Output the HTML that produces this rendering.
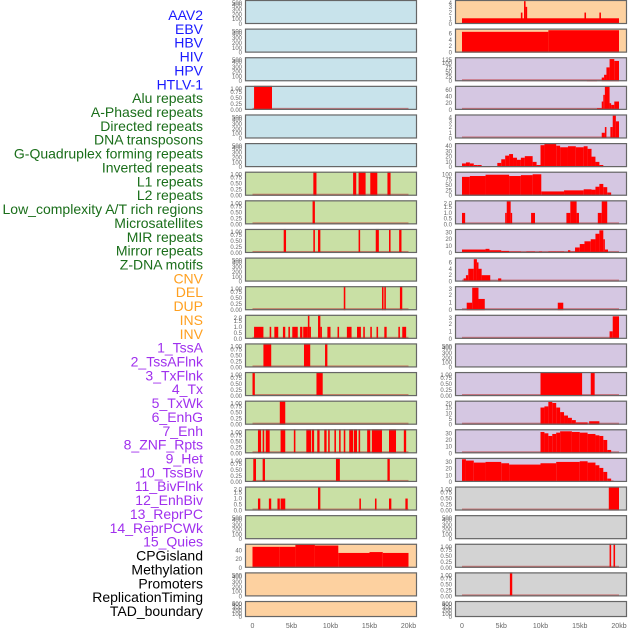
<!DOCTYPE html>
<html><head><meta charset="utf-8"><style>
body{margin:0;background:#fff;}
svg{display:block;font-family:"Liberation Sans",sans-serif;}
</style></head><body>
<svg id="chart" width="630" height="630" viewBox="0 0 630 630"></svg>
<script>
// ---------- data ----------
const labels = ["AAV2","EBV","HBV","HIV","HPV","HTLV-1","Alu repeats","A-Phased repeats","Directed repeats","DNA transposons","G-Quadruplex forming repeats","Inverted repeats","L1 repeats","L2 repeats","Low_complexity A/T rich regions","Microsatellites","MIR repeats","Mirror repeats","Z-DNA motifs","CNV","DEL","DUP","INS","INV","1_TssA","2_TssAFlnk","3_TxFlnk","4_Tx","5_TxWk","6_EnhG","7_Enh","8_ZNF_Rpts","9_Het","10_TssBiv","11_BivFlnk","12_EnhBiv","13_ReprPC","14_ReprPCWk","15_Quies","CPGisland","Methylation","Promoters","ReplicationTiming","TAD_boundary"];
const labelGroups = [6,13,5,15,5];
const xTickValues = [0,5,10,15,20];
const xTickLabels = ["0","5kb","10kb","15kb","20kb"];
const tEmpty = [0,100,200,300,400,500];
const tOne = [0,0.25,0.5,0.75,1];
const tTwo = [0,0.5,1,1.5,2];
const leftBg = ["b","b","b","b","b","b","g","g","g","g","g","g","g","g","g","g","g","g","g","p","p","p"];
const leftTicks = [tEmpty,tEmpty,tEmpty,tOne,tEmpty,tEmpty,tOne,tOne,tOne,tEmpty,tOne,tTwo,tOne,tOne,tOne,tOne,tOne,tTwo,tEmpty,[0,20,40],tEmpty,tEmpty];
const leftMax = [500,500,500,1,500,500,1,1,1,500,1,2,1,1,1,1,1,2,500,55,500,500];
const L3 = [[0.2,2.5,1]];
const L6 = [[7.8,8.2,1],[12.9,13.3,1],[13.6,14.5,1],[15.1,16.0,1],[17.3,17.7,1]];
const L7 = [[7.7,8.0,1]];
const L8 = [[4.0,4.3,1],[7.8,8.0,1],[8.4,8.7,1],[13.6,13.8,1],[15.8,16.2,1],[17.5,17.7,1],[18.8,19.1,1]];
const L10 = [[11.7,11.9,1],[16.6,16.8,1],[16.9,17.1,1],[18.9,19.2,1]];
const L11 = [[0.2,1.4,1],[2.2,2.4,1],[2.8,3.3,1],[3.9,4.2,1],[4.6,4.8,1],[5.1,5.8,1],[6.1,6.4,1],[6.5,7.1,1],[7.1,7.3,2],[7.3,7.4,1],[8.4,8.7,2],[8.7,8.9,1],[9.6,10.0,1],[10.9,11.1,1],[12.1,12.7,1],[13.4,13.9,1],[14.2,14.4,1],[15.1,15.3,1],[15.9,16.1,1],[16.9,17.2,1],[18.7,18.9,1],[19.2,19.7,1]];
const L12 = [[1.4,2.4,1],[6.6,7.4,1],[9.3,9.6,1]];
const L13 = [[0.0,0.3,1],[8.2,9.0,1]];
const L14 = [[3.5,4.2,1]];
const L15 = [[0.7,1.1,1],[1.3,1.5,1],[1.7,2.2,1],[3.6,4.2,1],[5.3,5.5,1],[6.9,7.5,1],[7.6,7.9,1],[8.3,8.6,1],[9.2,9.5,1],[9.7,9.9,1],[10.5,10.7,1],[11.1,11.3,1],[11.7,11.9,1],[12.4,12.9,1],[13.0,13.4,1],[13.6,13.8,1],[14.7,15.1,1],[15.3,16.6,1],[17.5,18.4,1],[19.4,19.7,1]];
const L16 = [[0.1,0.45,1],[1.3,1.6,1],[10.7,11.2,1],[17.3,17.6,1]];
const L17 = [[0.7,1.0,1],[2.1,2.4,1],[3.2,3.5,1],[3.6,4.2,1],[8.4,8.7,2],[13.7,13.9,1],[15.7,15.9,1],[17.5,17.8,1],[19.6,19.9,1]];
const L19 = [[0,3.5,48],[3.5,5.5,48],[5.5,8.0,53],[8.0,11.0,51],[11.0,15.0,34],[15.0,16.7,36],[16.7,20.0,34]];
const leftData = [[],[],[],L3,[],[],L6,L7,L8,[],L10,L11,L12,L13,L14,L15,L16,L17,[],L19,[],[]];
const leftBase = [0,0,0,1,0,0,1,1,1,0,1,1,1,1,1,1,1,1,0,0,0,0];
const rightBg = ["p","p","l","l","l","l","l","l","l","l","l","l","l","l","l","l","l","y","y","y","y","y"];
const rightTicks = [[0,1,2,3,4],[0,2,4,6],[0,25,50,75,100,125],[0,20,40,60],[0,1,2,3,4],[0,10,20,30,40],[0,25,50,75,100],tTwo,[0,10,20,30],[0,2,4,6],[0,1,2,3],[0,1,2,3],tEmpty,tOne,[0,5,10,15,20],[0,10,20,30],[0,10,20,30],tOne,tEmpty,tOne,tOne,tEmpty];
const rightMax = [4.2,7.5,130,72,4.2,46,112,2.1,35,7.5,3.2,3.2,500,1,21,36,36,1,500,1,1,500];
const R0 = [[0,20,1],[7.5,7.7,2],[7.9,8.1,4],[8.1,8.3,3],[15.6,15.8,2],[17.5,17.7,2]];
const R1 = [[0,11,6.5],[11,20,7]];
const R2 = [[15.9,17.2,5],[17.8,18.1,20],[18.1,18.4,35],[18.4,18.8,75],[18.8,19.4,120],[19.4,20,110]];
const R3 = [[17.2,17.8,5],[17.8,18.0,25],[18.0,18.2,45],[18.2,18.8,70],[18.8,19.0,20],[19.0,19.4,15],[19.4,20,25]];
const R4 = [[17.8,18.2,1],[18.2,18.4,2],[18.9,19.2,2],[19.2,19.6,4],[19.6,20,3]];
const R5 = [[0,0.5,7],[0.5,1,9],[1,1.5,7],[1.5,2,4],[2,2.5,4],[2.5,3.6,2],[4.5,5,8],[5,5.5,15],[5.5,6,22],[6,6.5,25],[6.5,7,18],[7,7.5,14],[7.5,8,18],[8,9,21],[9,9.5,10],[9.5,10,4],[10,10.5,42],[10.5,12,45],[12,12.5,41],[12.5,13.5,38],[13.5,14.5,40],[14.5,15.5,38],[15.5,16,40],[16,16.5,35],[16.5,17,20],[17,17.5,10],[17.5,18,4]];
const R6 = [[0,1,88],[1,3,92],[3,6,98],[6,7.5,92],[7.5,9,96],[9,10.1,100],[10.1,13,20],[13,15.5,25],[15.5,16.5,30],[16.5,17,28],[17,17.5,42],[17.5,18,55],[18,18.5,40],[18.5,19,15]];
const R7 = [[0,0.4,1],[5.5,5.7,1],[5.7,6.2,2],[6.2,6.3,1],[8.8,9.3,1],[13.3,13.8,1],[13.8,14.6,2],[14.6,14.9,1],[17.3,17.8,1],[17.8,18.5,2]];
const R8 = [[0,3,5],[3,3.5,6],[3.5,5,4],[5,6,3],[6,7.5,2],[8.2,9.3,2],[9.8,10.2,2],[11.0,12.0,2],[12.0,13.0,2],[13.5,13.8,4],[13.8,14.4,2],[14.4,15,8],[15,15.6,13],[15.6,16.4,17],[16.4,17,20],[17,17.5,28],[17.5,18,33],[18,18.2,20],[18.2,18.6,5]];
const R9 = [[0.2,0.5,1],[0.5,0.8,2],[0.8,1.5,4],[1.5,1.9,7],[1.9,2.1,6],[2.1,2.5,4],[2.5,3.6,2],[4.6,5.0,1]];
const R10 = [[0.6,1.3,1],[1.3,2.1,3],[2.1,2.9,1.5],[12.2,12.9,1]];
const R11 = [[18.8,19.2,1],[19.2,20,3]];
const R13 = [[10.0,15.3,1],[16.4,16.9,1]];
const R14 = [[10,10.5,15],[10.5,11,16],[11,11.5,20],[11.5,12,19],[12,12.5,15],[12.5,13,11],[13,13.5,8],[13.5,14,6],[14,14.5,4],[14.5,16,2],[16.2,17.5,3]];
const R15 = [[10,10.5,32],[10.5,11,30],[11,11.5,26],[11.5,12,29],[12,12.5,31],[12.5,14,33],[14,15,32],[15,16,31],[16,17,29],[17,17.5,27],[17.5,18,26],[18,18.5,20],[18.5,19,5]];
const R16 = [[0,0.5,34],[0.5,1.5,32],[1.5,3,29],[3,5,30],[5,6,28],[6,10,26],[10,12,28],[12,15,30],[15,16,31],[16,17,29],[17,17.5,25],[17.5,18,21],[18,18.5,15],[18.5,19,5],[19,19.3,2]];
const R17 = [[18.7,20,1]];
const R19 = [[18.8,19.0,1],[19.3,19.5,1]];
const R20 = [[6.1,6.4,1]];
const rightData = [R0,R1,R2,R3,R4,R5,R6,R7,R8,R9,R10,R11,[],R13,R14,R15,R16,R17,[],R19,R20,[]];
const rightBase = [0,0,1,1,1,0,0,1,1,1,1,1,0,1,1,1,0,1,0,1,1,0];

// ---------- drawing ----------
const NS = "http://www.w3.org/2000/svg";
const svg = document.getElementById("chart");
const bgColors = {b:"#c8e3eb", g:"#c9e0a5", p:"#fdd1a0", l:"#d5c7e2", y:"#d3d3d3"};
const groupColors = ["#1a1aff","#1a6e1a","#ffa020","#a030ee","#000000"];
function mk(tag, attrs, parent){const e=document.createElementNS(NS,tag);for(const k in attrs)e.setAttribute(k,attrs[k]);(parent||svg).appendChild(e);return e;}
function rowTop(i){return i*28.62;}
function rowH(i){return i===21?16:24;}
const cols = [
 {px:245, pw:172, x0:252.5, kbw:7.8, bg:leftBg, ticks:leftTicks, max:leftMax, data:leftData, base:leftBase, name:"left"},
 {px:455, pw:172, x0:462, kbw:7.85, bg:rightBg, ticks:rightTicks, max:rightMax, data:rightData, base:rightBase, name:"right"}
];
function fmt(v, ticks){const m=Math.max(...ticks); if(m===1) return v.toFixed(2); if(m===2) return v.toFixed(1); return String(v);}
cols.forEach(c=>{
  const xs = kb => c.x0 + kb*c.kbw;
  for(let i=0;i<22;i++){
    const top=rowTop(i), h=rowH(i);
    const g=mk("g",{});
    
    
    mk("rect",{x:c.px,y:top,width:c.pw,height:h,fill:bgColors[c.bg[i]]},g);
    const ys = v => top + h - v/c.max[i]*h;
    if(c.base[i]){
      const bl=mk("rect",{x:xs(0),y:top+h-2,width:xs(20)-xs(0),height:2,fill:"rgba(190,40,40,0.55)"},g);
      
      
    }
    c.data[i].forEach(d=>{
      const y=Math.max(ys(d[2]),top);
      const r=mk("rect",{x:xs(d[0]),y:y,width:Math.max(xs(d[1])-xs(d[0]),1.5),height:top+h-y,fill:"#ff0000"},g);
      
      
    });
    mk("rect",{x:c.px+0.5,y:top+0.5,width:c.pw-1,height:h-1,fill:"none",stroke:"#666",'stroke-width':1.2},g);
    c.ticks[i].forEach(v=>{
      const t=mk("text",{x:c.px-3,y:Math.min(Math.max(ys(v),top+3),top+h)+2,'font-size':6,fill:"#666",'text-anchor':"end"},g);
      t.textContent=fmt(v,c.ticks[i]);
      
      
    });
  }
  xTickValues.forEach((v,k)=>{
    const t=mk("text",{x:xs(v),y:628,'font-size':7,fill:"#666",'text-anchor':"middle"});
    t.textContent=xTickLabels[k];
    
    
  });
});
let li=0;
labelGroups.forEach((n,gi)=>{
  for(let k=0;k<n;k++,li++){
    const t=mk("text",{x:203,y:20+li*13.86,'font-size':14,fill:groupColors[gi],'text-anchor':"end"});
    t.textContent=labels[li];
    
    
  }
});
</script>
</body></html>
